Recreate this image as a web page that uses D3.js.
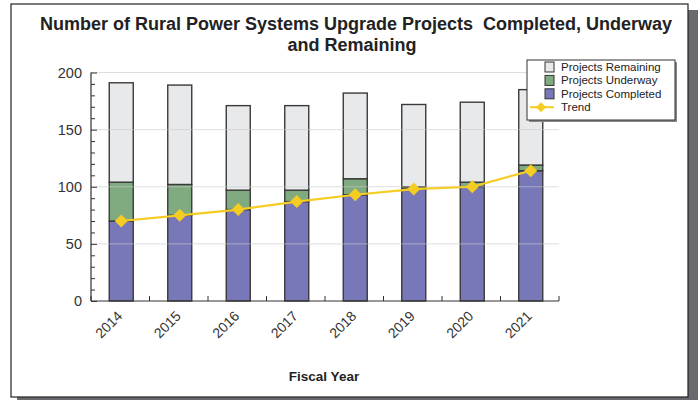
<!DOCTYPE html>
<html><head><meta charset="utf-8">
<script src="https://cdn.jsdelivr.net/npm/d3@7"></script>
<style>body{margin:0;background:#fff;} text{font-family:"Liberation Sans",Arial,sans-serif;}</style>
</head><body><svg id="c" width="698" height="400"></svg>
<script>
const years = ["2014","2015","2016","2017","2018","2019","2020","2021"];
const completed = [70,75,80,87,93,98,100,114];
const underway  = [34,27,17,10,14,2,4,5];
const remaining = [87,87,74,74,75,72,70,66];
const trend     = [70,75,80,87,93,98,100,114];
const yTicks = [0,50,100,150,200];
const seriesNames = ["Projects Remaining","Projects Underway","Projects Completed","Trend"];
const colors = {"Projects Remaining":"#e8e9eb","Projects Underway":"#80ab80","Projects Completed":"#7878b9"};

const svg = d3.select("#c");
svg.append("rect").attr("x",17).attr("y",10).attr("width",681).attr("height",390).attr("fill","#6a6a6e");
svg.append("rect").attr("x",11).attr("y",4).attr("width",677).attr("height",393).attr("fill","#fff").attr("stroke","#222").attr("stroke-width",1.2);

const title = svg.append("text").attr("text-anchor","middle").attr("font-weight","bold").attr("font-size",18).attr("fill","#222").style("white-space","pre");
title.append("tspan").attr("x",356).attr("y",30).text("Number of Rural Power Systems Upgrade Projects  Completed, Underway");
title.append("tspan").attr("x",352).attr("y",51).text("and Remaining");

const L=91, R=559, T=72.5, B=301;
const x = d3.scaleBand().domain(years).range([L,R]);
const y = d3.scaleLinear().domain([0,200]).range([B,T]);
const bw = 24;

const rows = years.map((yr,i)=>({year:yr,"Projects Completed":completed[i],"Projects Underway":underway[i],"Projects Remaining":remaining[i]}));
const stack = d3.stack().keys(["Projects Completed","Projects Underway","Projects Remaining"])(rows);

const g = svg.append("g");
stack.forEach(layer=>{
  g.selectAll(null).data(layer).enter().append("rect")
    .attr("x",d=>x(d.data.year)+x.bandwidth()/2-bw/2+1)
    .attr("width",bw)
    .attr("y",d=>y(d[1]))
    .attr("height",d=>y(d[0])-y(d[1]))
    .attr("fill",colors[layer.key])
    .attr("stroke","#3a3a3a").attr("stroke-width",1.4);
});

svg.append("g").selectAll("line").data(yTicks.filter(v=>v>0)).enter().append("line")
  .attr("x1",L).attr("x2",R).attr("y1",d=>y(d)).attr("y2",d=>y(d))
  .attr("stroke","#c8c8cc").attr("stroke-opacity",0.6).attr("stroke-width",1);

const yAxis = svg.append("g").attr("transform",`translate(${L},0)`)
  .call(d3.axisRight(y).tickValues(d3.range(0,201,10)).tickSize(4).tickFormat(""));
yAxis.select(".domain").remove();
yAxis.selectAll("line").attr("stroke","#333").attr("x2",d=>d%50===0?6:4);
svg.append("line").attr("x1",L).attr("x2",L).attr("y1",T).attr("y2",B).attr("stroke","#333").attr("stroke-width",1.2);
svg.append("g").selectAll("text").data(yTicks).enter().append("text")
  .attr("x",82).attr("y",d=>y(d)+5).attr("text-anchor","end").attr("font-size",14.5).attr("fill","#333").text(d=>d);

svg.append("line").attr("x1",L).attr("x2",R).attr("y1",B).attr("y2",B).attr("stroke","#333").attr("stroke-width",1.2);
const bounds = years.map(d=>x(d)).concat([R]);
svg.append("g").selectAll("line").data(bounds).enter().append("line")
  .attr("x1",d=>d).attr("x2",d=>d).attr("y1",B).attr("y2",B-5).attr("stroke","#333");
svg.append("g").selectAll("text").data(years).enter().append("text")
  .attr("transform",d=>`translate(${x(d)+x.bandwidth()/2-4},${B+9}) rotate(-45)`)
  .attr("text-anchor","end").attr("dy","0.7em").attr("font-size",14).attr("fill","#333").text(d=>d);
svg.append("text").attr("x",324).attr("y",381).attr("text-anchor","middle").attr("font-weight","bold").attr("font-size",13.5).attr("fill","#222").text("Fiscal Year");

const diamond = r => `M0,${-r}L${r},0L0,${r}L${-r},0Z`;
const cx = d=>x(d)+x.bandwidth()/2+1;
svg.append("path").datum(trend).attr("fill","none").attr("stroke","#f5cc22").attr("stroke-width",2.2)
  .attr("d",d3.line().x((d,i)=>cx(years[i])).y(d=>y(d)));
svg.append("g").selectAll("path").data(trend).enter().append("path")
  .attr("transform",(d,i)=>`translate(${cx(years[i])},${y(d)})`)
  .attr("d",diamond(6.5)).attr("fill","#f5cc22");

const lg = svg.append("g");
lg.append("rect").attr("x",529).attr("y",62).attr("width",148).attr("height",60).attr("fill","#888");
lg.append("rect").attr("x",527).attr("y",60).attr("width",148).attr("height",60).attr("fill","#fff").attr("stroke","#333").attr("stroke-width",1);
seriesNames.forEach((n,i)=>{
  const cy = 67 + i*13.4;
  if(n==="Trend"){
    lg.append("line").attr("x1",530).attr("x2",554).attr("y1",cy).attr("y2",cy).attr("stroke","#f5cc22").attr("stroke-width",2);
    lg.append("path").attr("transform",`translate(541,${cy})`).attr("d",diamond(5)).attr("fill","#f5cc22");
  } else {
    lg.append("rect").attr("x",545).attr("y",cy-5).attr("width",9).attr("height",10).attr("fill",colors[n]).attr("stroke","#333").attr("stroke-width",1);
  }
  lg.append("text").attr("x",561).attr("y",cy+4).attr("font-size",11.5).attr("fill","#222").text(n);
});
</script></body></html>
